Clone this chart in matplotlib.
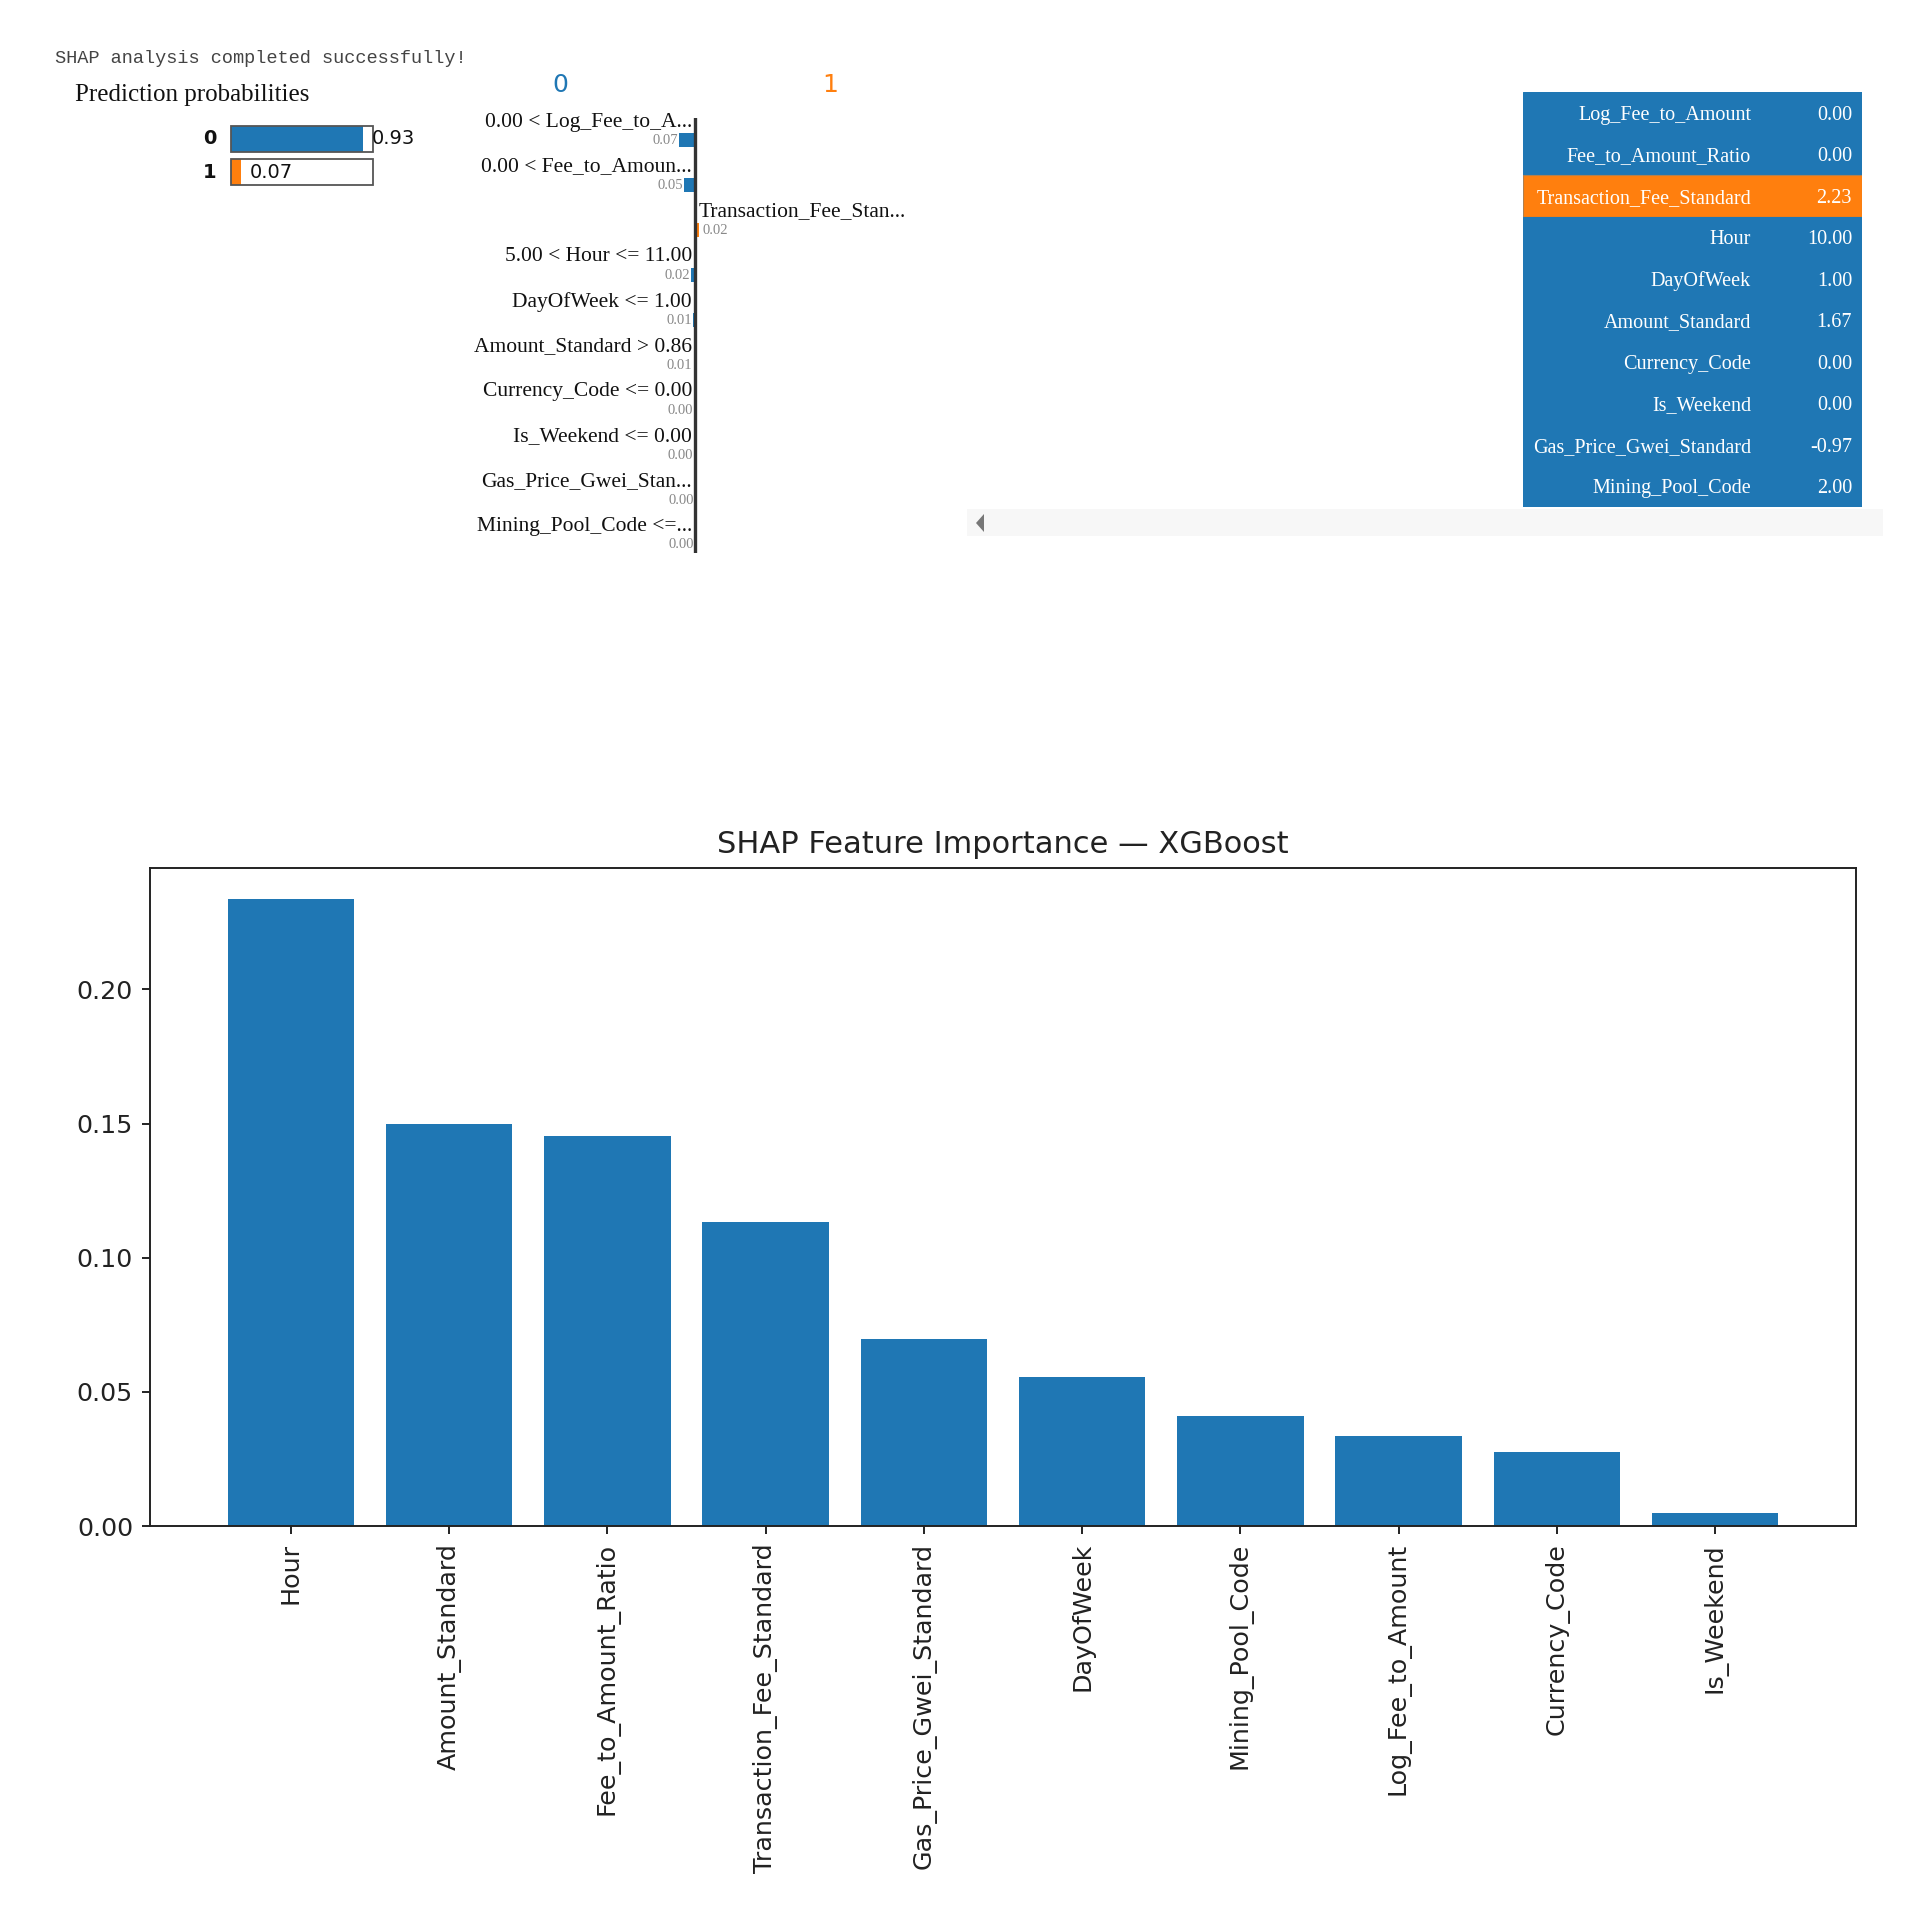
import matplotlib
matplotlib.use('Agg')
import matplotlib.pyplot as plt
from matplotlib.patches import Rectangle, Polygon

# ---------------- data ----------------
# SHAP mean |value| importance
shap_features = ["Hour", "Amount_Standard", "Fee_to_Amount_Ratio", "Transaction_Fee_Standard",
                 "Gas_Price_Gwei_Standard", "DayOfWeek", "Mining_Pool_Code", "Log_Fee_to_Amount",
                 "Currency_Code", "Is_Weekend"]
shap_values = [0.2336, 0.1500, 0.1455, 0.1135, 0.0698, 0.0556, 0.0411, 0.0337, 0.0275, 0.0048]

# LIME prediction probabilities
proba_classes = ["0", "1"]
proba_values = [0.93, 0.07]

# LIME explanation (negative = towards class 0, positive = towards class 1)
lime_labels = ["0.00 < Log_Fee_to_A...", "0.00 < Fee_to_Amoun...", "Transaction_Fee_Stan...",
               "5.00 < Hour <= 11.00", "DayOfWeek <= 1.00", "Amount_Standard > 0.86",
               "Currency_Code <= 0.00", "Is_Weekend <= 0.00", "Gas_Price_Gwei_Stan...",
               "Mining_Pool_Code <=..."]
lime_weights = [-0.068, -0.046, 0.018, -0.016, -0.008, -0.006, -0.004, -0.003, -0.002, -0.002]

# Feature value table
table_features = ["Log_Fee_to_Amount", "Fee_to_Amount_Ratio", "Transaction_Fee_Standard", "Hour",
                  "DayOfWeek", "Amount_Standard", "Currency_Code", "Is_Weekend",
                  "Gas_Price_Gwei_Standard", "Mining_Pool_Code"]
table_values = [0.00, 0.00, 2.23, 10.00, 1.00, 1.67, 0.00, 0.00, -0.97, 2.00]

BLUE = '#1f77b4'
ORANGE = '#ff7f0e'
W = H = 1920
SERIF = 'Liberation Serif'

fig = plt.figure(figsize=(19.2, 19.2), dpi=100)
fig.patch.set_facecolor('white')


def px_axes(x0, y0, x1, y1, **kw):
    return fig.add_axes([x0 / W, 1 - y1 / H, (x1 - x0) / W, (y1 - y0) / H], **kw)


# overlay for free text / decorations
ov = px_axes(0, 0, W, H)
ov.set_xlim(0, W)
ov.set_ylim(H, 0)
ov.axis('off')

ov.text(55, 58.5, "SHAP analysis completed successfully!", family='Liberation Mono',
        size=13.4, color='#444444', ha='left', va='center')
ov.text(75, 95, "Prediction probabilities", family=SERIF, size=18, color='#111111',
        ha='left', va='center')
ov.text(560, 85.5, "0", color=BLUE, size=18, ha='center', va='center')
ov.text(830, 85.5, "1", color=ORANGE, size=18, ha='center', va='center')

# scroll bar
ov.add_patch(Rectangle((967, 509), 916, 27, facecolor='#f7f7f7', edgecolor='none'))
ov.add_patch(Polygon([(984, 514), (984, 532), (976, 523)], closed=True,
                     facecolor='#777777', edgecolor='none'))

# ---------------- prediction probabilities ----------------
pa = px_axes(231, 122, 373, 189)
pa.set_xlim(0, 1)
pa.set_ylim(1.5, -0.5)
pa.axis('off')
yy = list(range(len(proba_values)))
pa.barh(yy, proba_values, height=0.78, color=[BLUE, ORANGE], clip_on=False)
pa.barh(yy, [1] * len(yy), height=0.78, facecolor='none', edgecolor='#555555',
        linewidth=1.3, clip_on=False)
for i, (c, v) in enumerate(zip(proba_classes, proba_values)):
    pa.text(v + 0.06, i, f"{v:.2f}", ha='left', va='center', size=14, color='#111111')
    pa.text(-0.1, i, c, ha='right', va='center', size=14, color='#111111',
            fontweight='semibold')

# ---------------- LIME explanation ----------------
scale = 235.0
la = px_axes(600, 118, 790, 553)
la.set_xlim((600 - 695) / scale, (790 - 695) / scale)
la.set_ylim((553 - 140) / 44.9, (118 - 140) / 44.9)
la.axis('off')
rows = list(range(len(lime_weights)))
la.barh(rows, lime_weights, height=14 / 44.9,
        color=[ORANGE if w > 0 else BLUE for w in lime_weights])
la.axvline(0, color='#333333', lw=2.4)
for i, (lab, w) in enumerate(zip(lime_labels, lime_weights)):
    if w < 0:
        la.text(-3 / scale, i - 0.40, lab, ha='right', va='center', family=SERIF,
                size=15.5, color='#111111', clip_on=False)
        la.text(w - 1 / scale, i + 0.02, f"{abs(w):.2f}", ha='right', va='center',
                family=SERIF, size=10.5, color='#888888', clip_on=False)
    else:
        la.text(4 / scale, i - 0.40, lab, ha='left', va='center', family=SERIF,
                size=15.5, color='#111111', clip_on=False)
        la.text(w + 3 / scale, i + 0.02, f"{abs(w):.2f}", ha='left', va='center',
                family=SERIF, size=10.5, color='#888888', clip_on=False)

# ---------------- feature value table ----------------
ta = px_axes(1523, 92, 1862, 507)
ta.set_xlim(0, 1)
ta.set_ylim(len(table_values) - 0.5, -0.5)
ta.axis('off')
trows = list(range(len(table_values)))
tcolors = [ORANGE if w > 0 else BLUE for w in lime_weights]
tedges = ['#b08050' if w > 0 else BLUE for w in lime_weights]
ta.barh(trows, [1] * len(trows), height=1.0, color=tcolors, edgecolor=tedges, linewidth=0.8)
for i, (f, v) in enumerate(zip(table_features, table_values)):
    ta.text(0.6726, i + 0.06, f, ha='right', va='center', family=SERIF, size=14.5,
            color='white')
    ta.text(0.9705, i + 0.06, f"{v:.2f}", ha='right', va='center', family=SERIF, size=14.5,
            color='white')

# ---------------- SHAP bar chart ----------------
ax = px_axes(150, 868, 1856, 1526)
ax.bar(shap_features, shap_values, color=BLUE, width=0.8)
ax.set_title("SHAP Feature Importance — XGBoost", fontsize=22, pad=10.5, color='#222222')
ax.tick_params(axis='both', labelsize=18.3, length=6.1, width=1.4, pad=6.1,
               colors='#222222')
ax.tick_params(axis='x', labelrotation=90)
for s in ax.spines.values():
    s.set_linewidth(1.4)
    s.set_color('#222222')

fig.savefig('out.png', dpi=100, facecolor='white')
